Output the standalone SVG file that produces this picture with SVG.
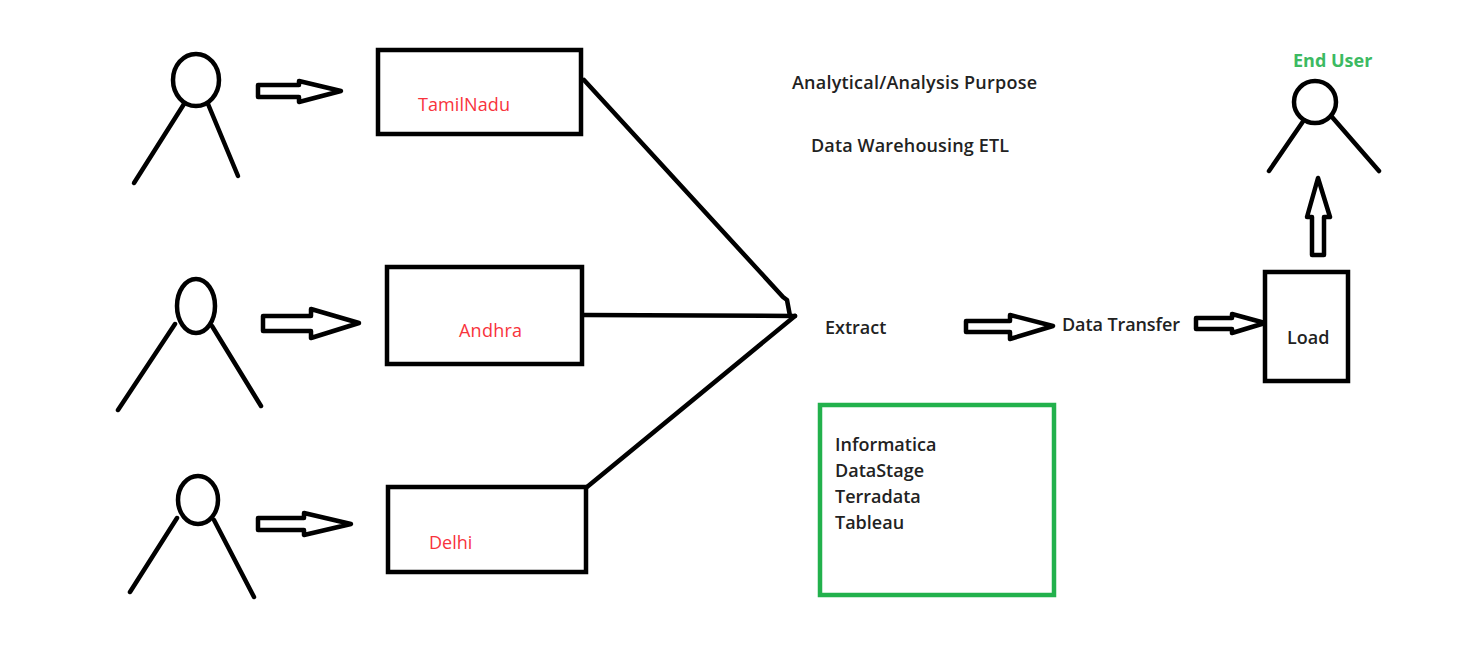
<svg xmlns="http://www.w3.org/2000/svg" width="1483" height="648" viewBox="0 0 1483 648">
<style>
.s{fill:none;stroke:#000;stroke-width:4.5;stroke-linecap:round;stroke-linejoin:round}
.a{fill:#fff;stroke:#000;stroke-width:4.5;stroke-linejoin:round}
.b{fill:#fff;stroke:#000;stroke-width:4.5}
text{font-family:"Open Sans","Noto Sans","Liberation Sans",sans-serif;font-size:18px}
.k{fill:#222;font-weight:600}
.r{fill:#f8333c}
.g{fill:#3cba62;font-weight:700}
</style>
<rect width="1483" height="648" fill="#fff"/>
<g id="connectors">
<path class="s" d="M584 80L783 297L787 300L790 316"/>
<path class="s" d="M584 315L795 316"/>
<path class="s" d="M587 487L795 316"/>
<path class="a" d="M258 85H299V81L341 91L299 102V97H258Z"/>
<path class="a" d="M263 316H311V309L359 323L311 338V331H263Z"/>
<path class="a" d="M258 518H304V513L351 524L304 535V530H258Z"/>
<path class="a" d="M966 321H1010V315L1053 326L1010 339V332H966Z"/>
<path class="a" d="M1196 318H1232V314L1265 323L1232 333V329H1196Z"/>
<path class="a" d="M1312 255V217H1307L1318 178L1330 217H1324V255Z"/>
</g>
<g id="person-1"><ellipse class="s" cx="196" cy="80" rx="23" ry="26"/><path class="s" d="M184 104L134 183M208 104L238 176"/></g>
<g id="person-2"><ellipse class="s" cx="196" cy="306" rx="19" ry="27"/><path class="s" d="M175 324L118 410M212 326L261 406"/></g>
<g id="person-3"><ellipse class="s" cx="198" cy="500" rx="20" ry="24"/><path class="s" d="M177 518L130 592M214 520L254 597"/></g>
<g id="end-user"><circle class="s" cx="1315" cy="102" r="21"/><path class="s" d="M1304 120L1269 171M1332 117L1379 171"/><text class="g" x="1293" y="67" font-size="18">End User</text></g>
<g id="tamilnadu"><rect class="b" x="378" y="50" width="203" height="84"/><text class="r" x="418" y="111" textLength="92">TamilNadu</text></g>
<g id="andhra"><rect class="b" x="387" y="267" width="195" height="97"/><text class="r" x="459" y="337" textLength="63">Andhra</text></g>
<g id="delhi"><rect class="b" x="388" y="487" width="198" height="85"/><text class="r" x="429" y="549">Delhi</text></g>
<g id="load"><rect class="b" x="1265" y="272" width="83" height="109"/><text class="k" x="1287" y="344">Load</text></g>
<g id="tools"><rect x="820" y="405" width="234" height="190" fill="#fff" stroke="#22b14c" stroke-width="4.5"/>
<text class="k" x="835" y="451">Informatica</text><text class="k" x="835" y="477">DataStage</text><text class="k" x="835" y="503">Terradata</text><text class="k" x="835" y="529">Tableau</text></g>
<g id="labels">
<text class="k" x="792" y="89" textLength="245">Analytical/Analysis Purpose</text>
<text class="k" x="811" y="152" textLength="198">Data Warehousing ETL</text>
<text class="k" x="825" y="334">Extract</text>
<text class="k" x="1062" y="331" textLength="118">Data Transfer</text>
</g>
</svg>
